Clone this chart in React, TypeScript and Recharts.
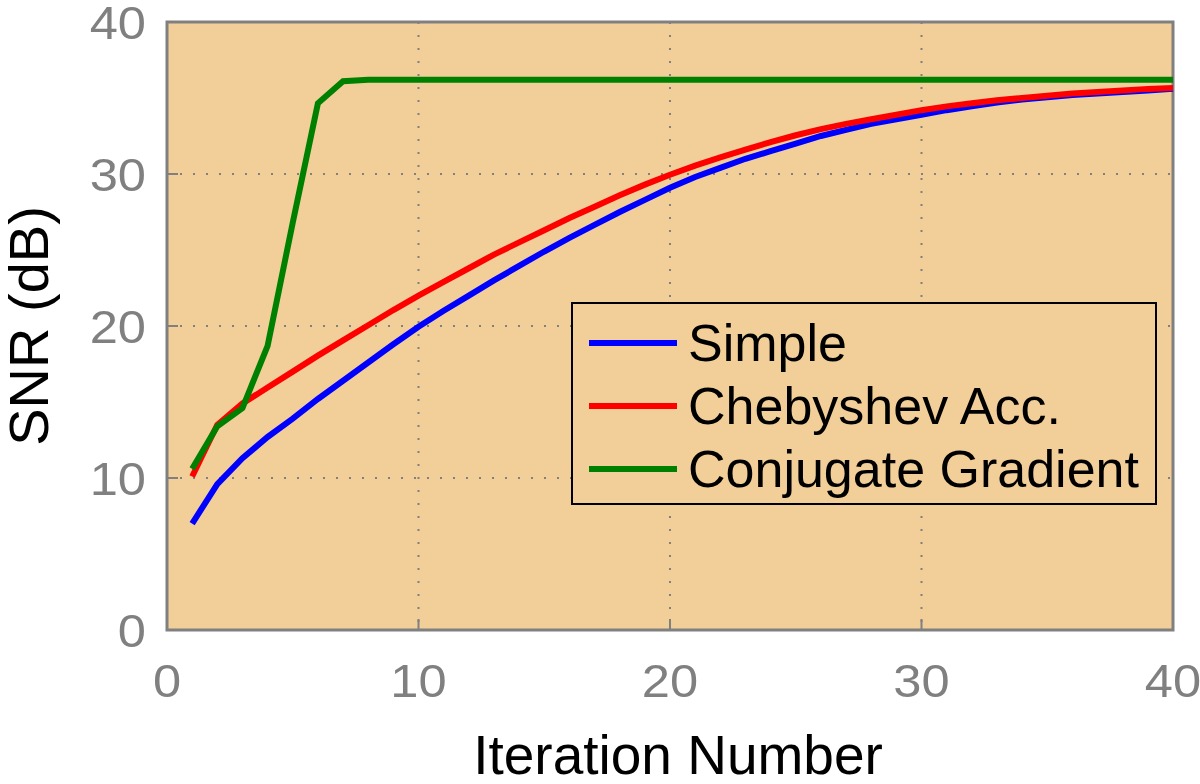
import {
  CartesianGrid,
  Legend,
  Line,
  LineChart,
  ReferenceArea,
  XAxis,
  YAxis,
} from "recharts";

const iterations = [
  1, 2, 3, 4, 5, 6, 7, 8, 9, 10, 11, 12, 13, 14, 15, 16, 17, 18, 19, 20,
  21, 22, 23, 24, 25, 26, 27, 28, 29, 30, 31, 32, 33, 34, 35, 36, 37, 38, 39, 40,
];

const simple = [
  7.0, 9.6, 11.3, 12.7, 13.9, 15.2, 16.4, 17.6, 18.8, 19.95,
  21.0, 22.0, 23.0, 23.95, 24.9, 25.8, 26.65, 27.5, 28.3, 29.1,
  29.8, 30.4, 31.0, 31.5, 32.0, 32.5, 32.9, 33.3, 33.6, 33.9,
  34.2, 34.45, 34.7, 34.9, 35.05, 35.2, 35.3, 35.4, 35.5, 35.6,
];

const chebyshev = [
  10.1, 13.5, 14.9, 15.95, 17.0, 18.05, 19.05, 20.05, 21.05, 22.0,
  22.9, 23.8, 24.7, 25.5, 26.3, 27.1, 27.85, 28.6, 29.3, 29.95,
  30.55, 31.1, 31.6, 32.1, 32.55, 32.95, 33.3, 33.6, 33.9, 34.2,
  34.45, 34.65, 34.85, 35.0, 35.15, 35.3, 35.4, 35.5, 35.6, 35.65,
];

const conjugate = [
  10.6, 13.4, 14.6, 18.7, 26.8, 34.65, 36.1, 36.2, 36.2, 36.2,
  36.2, 36.2, 36.2, 36.2, 36.2, 36.2, 36.2, 36.2, 36.2, 36.2,
  36.2, 36.2, 36.2, 36.2, 36.2, 36.2, 36.2, 36.2, 36.2, 36.2,
  36.2, 36.2, 36.2, 36.2, 36.2, 36.2, 36.2, 36.2, 36.2, 36.2,
];

const axisTicks = [0, 10, 20, 30, 40];

const series = [
  { key: "simple", name: "Simple", color: "#0000ff" },
  { key: "chebyshev", name: "Chebyshev Acc.", color: "#ff0000" },
  { key: "conjugate", name: "Conjugate Gradient", color: "#008000" },
];

const data = iterations.map((it, i) => ({
  it,
  simple: simple[i],
  chebyshev: chebyshev[i],
  conjugate: conjugate[i],
}));

const BG = "#f2cf99";
const GRAY = "#808080";
const FONT = '"Liberation Sans", Arial, Helvetica, sans-serif';

const XTick = (props: any) => {
  const { x, y, payload } = props;
  return (
    <g>
      <line x1={x} x2={x} y1={y - 50} y2={y - 61} stroke={GRAY} strokeWidth={2} />
      <text
        transform={`translate(${x},${y}) scale(1.1,1)`}
        textAnchor="middle"
        dy="0.36em"
        fontSize={46}
        fontFamily={FONT}
        fill={GRAY}
      >
        {payload.value}
      </text>
    </g>
  );
};

const YTick = (props: any) => {
  const { x, y, payload } = props;
  return (
    <g>
      <line x1={x + 21} x2={x + 32} y1={y} y2={y} stroke={GRAY} strokeWidth={2} />
      <text
        transform={`translate(${x},${y}) scale(1.1,1)`}
        textAnchor="end"
        dy="0.36em"
        fontSize={46}
        fontFamily={FONT}
        fill={GRAY}
      >
        {payload.value}
      </text>
    </g>
  );
};

const LegendBox = () => (
  <div
    style={{
      width: 586,
      height: 203,
      boxSizing: "border-box",
      border: "2px solid #000",
      background: BG,
      fontFamily: FONT,
      fontSize: 52,
      color: "#000",
      paddingTop: 7,
    }}
  >
    {series.map((s) => (
      <div key={s.key} style={{ display: "flex", alignItems: "center", height: 63 }}>
        <div style={{ width: 88, height: 6, background: s.color, marginLeft: 16, marginRight: 11 }} />
        <span style={{ lineHeight: 1 }}>{s.name}</span>
      </div>
    ))}
  </div>
);

const App = () => {
  return (
    <div style={{ position: "absolute", left: 0, top: 0, width: 1200, height: 784, background: "#fff" }}>
      <LineChart
        width={1200}
        height={784}
        data={data}
        margin={{ top: 22, right: 27, bottom: 0, left: 0 }}
      >
        <CartesianGrid
          fill={BG}
          stroke={GRAY}
          strokeWidth={2}
          strokeDasharray="2 11"
        />
        <XAxis
          dataKey="it"
          type="number"
          domain={[0, 40]}
          ticks={axisTicks}
          height={154}
          axisLine={false}
          tickLine={false}
          tickSize={0}
          tickMargin={50}
          tick={<XTick />}
          label={(p: any) => {
            const vb = p.viewBox;
            return (
              <text
                x={vb.x + vb.width / 2 + 8}
                y={vb.y + vb.height - 10}
                textAnchor="middle"
                fontSize={55}
                fontFamily={FONT}
                fill="#000"
              >
                Iteration Number
              </text>
            );
          }}
        />
        <YAxis
          type="number"
          domain={[0, 40]}
          ticks={axisTicks}
          width={167}
          axisLine={false}
          tickLine={false}
          tickSize={0}
          tickMargin={21}
          tick={<YTick />}
          label={(p: any) => {
            const vb = p.viewBox;
            return (
              <text
                transform={`translate(48,${vb.y + vb.height / 2}) rotate(-90)`}
                textAnchor="middle"
                fontSize={56}
                fontFamily={FONT}
                fill="#000"
              >
                SNR (dB)
              </text>
            );
          }}
        />
        <ReferenceArea
          x1={0}
          x2={40}
          y1={0}
          y2={40}
          fill="none"
          stroke={GRAY}
          strokeWidth={3}
        />
        {series.map((s) => (
          <Line
            key={s.key}
            type="linear"
            dataKey={s.key}
            name={s.name}
            stroke={s.color}
            strokeWidth={6}
            dot={false}
            isAnimationActive={false}
          />
        ))}
        <Legend
          layout="vertical"
          align="center"
          verticalAlign="middle"
          content={<LegendBox />}
          wrapperStyle={{ left: 571, top: 302, width: 586, height: 203 }}
        />
      </LineChart>
    </div>
  );
};

export default App;
